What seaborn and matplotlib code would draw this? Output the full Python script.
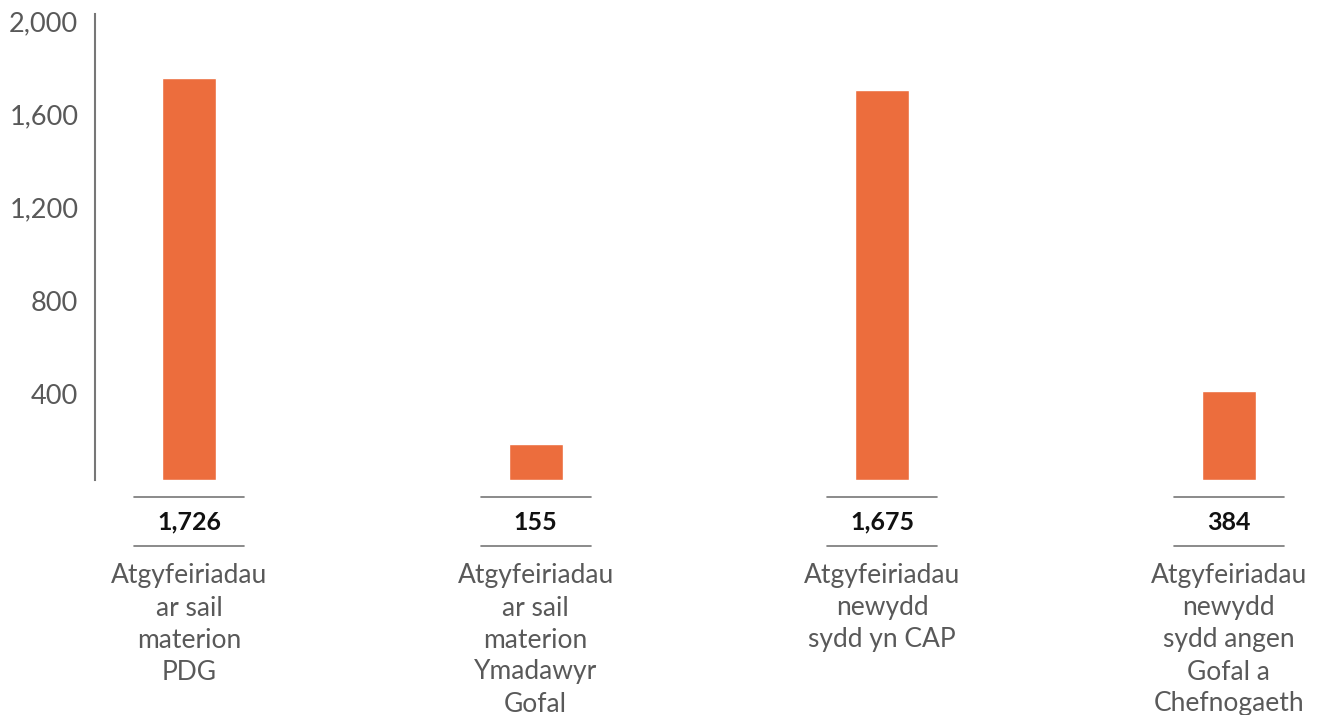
import matplotlib
matplotlib.use("Agg")
import matplotlib.pyplot as plt
import matplotlib.transforms as mtransforms
import seaborn as sns
import pandas as pd

categories = [
    "Atgyfeiriadau\nar sail\nmaterion\nPDG",
    "Atgyfeiriadau\nar sail\nmaterion\nYmadawyr\nGofal",
    "Atgyfeiriadau\nnewydd\nsydd yn CAP",
    "Atgyfeiriadau\nnewydd\nsydd angen\nGofal a\nChefnogaeth",
]
values = [1726, 155, 1675, 384]
value_labels = ["1,726", "155", "1,675", "384"]
y_ticks = [400, 800, 1200, 1600, 2000]
y_tick_labels = ["400", "800", "1,200", "1,600", "2,000"]

sns.set_theme(style="white")
plt.rcParams['font.family'] = ['Lato', 'DejaVu Sans']

W, H = 1318, 715
fig = plt.figure(figsize=(W / 100, H / 100), dpi=100)
ax = fig.add_axes([95 / W, (H - 480) / H, (W - 95) / W, 466 / H])

df = pd.DataFrame({"cat": range(len(values)), "val": values})
sns.barplot(data=df, x="cat", y="val", color="#EC6D3D", saturation=1,
            width=0.156, ax=ax)

ax.set_ylim(0, 2000)
ax.set_xlim(-0.271, 3.257)
ax.set_yticks(y_ticks)
ax.set_yticklabels(y_tick_labels)
ax.set_xticks([])
ax.set_xlabel("")
ax.set_ylabel("")
for s in ["top", "right", "bottom"]:
    ax.spines[s].set_visible(False)
ax.spines["left"].set_color("#777777")
ax.spines["left"].set_linewidth(1.5)
ax.tick_params(axis="y", length=0, pad=12, labelsize=19.5, labelcolor="#595959")
offset = mtransforms.ScaledTranslation(0, -7 / 100, fig.dpi_scale_trans)
for lbl in ax.get_yticklabels():
    lbl.set_transform(lbl.get_transform() + offset)

blend = mtransforms.blended_transform_factory(ax.transData, fig.transFigure)
def fy(px):
    return 1 - px / H

half = 55 / 346.7
for i, (vl, cat) in enumerate(zip(value_labels, categories)):
    for ypx in (497, 546):
        ax.plot([i - half, i + half], [fy(ypx), fy(ypx)], transform=blend,
                color="#777777", lw=1.2, clip_on=False)
    ax.text(i, fy(522), vl, transform=blend, ha="center", va="center",
            fontsize=18, fontweight="bold", color="#111111")
    for j, line in enumerate(cat.split("\n")):
        ax.text(i, fy(576 + 32 * j), line, transform=blend, ha="center",
                va="center", fontsize=19, color="#595959")

fig.savefig("out.png", dpi=100)
